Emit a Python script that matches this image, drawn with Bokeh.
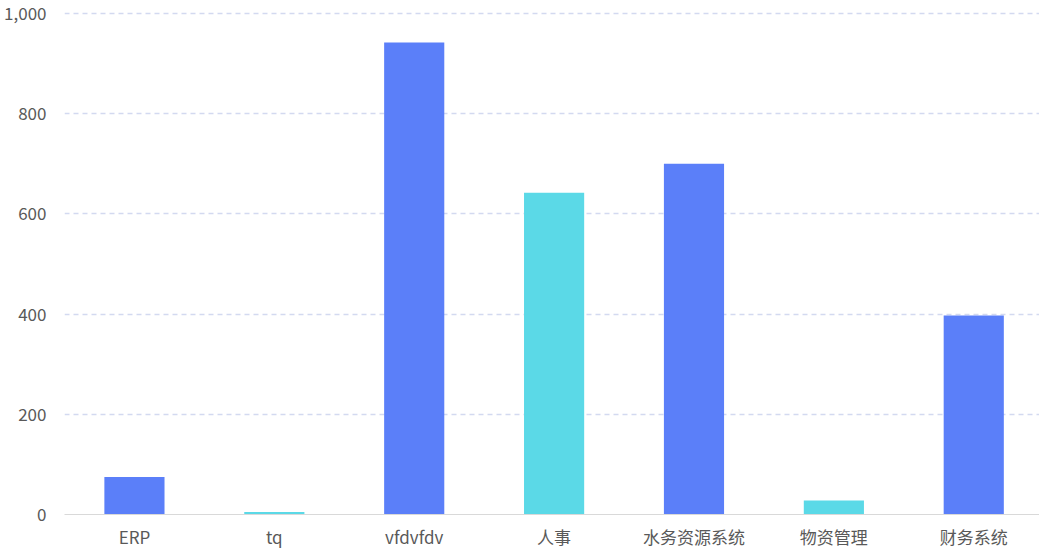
from bokeh.plotting import figure
from bokeh.models import ColumnDataSource, Range1d, NumeralTickFormatter, FixedTicker
from bokeh.embed import file_html
from bokeh.resources import INLINE

categories = ["ERP", "tq", "vfdvfdv", "人事", "水务资源系统", "物资管理", "财务系统"]
values = [75, 5, 942, 642, 700, 28, 397]
palette = ["#5B7FF9", "#5BD9E7"]
y_ticks = [0, 200, 400, 600, 800, 1000]

# position of each category slot (band centre) on a numeric band scale
xpos = [i + 0.5 for i in range(len(categories))]
colors = [palette[i % 2] for i in range(len(categories))]
source = ColumnDataSource(dict(x=xpos, cat=categories, val=values, color=colors))

p = figure(x_range=Range1d(0, 6.97), y_range=Range1d(0, 1004), width=1039, height=554,
           output_backend="svg", toolbar_location=None,
           min_border_left=64, min_border_right=0, min_border_top=11, min_border_bottom=40)
p.outline_line_color = None
p.background_fill_color = "white"

p.vbar(x="x", top="val", width=0.43, source=source, fill_color="color", line_color=None)

p.xgrid.grid_line_color = None
p.ygrid.grid_line_color = "#D3D9F0"
p.ygrid.grid_line_dash = "5 4"
p.ygrid.grid_line_width = 1.3

p.yaxis.ticker = FixedTicker(ticks=y_ticks)
p.yaxis.formatter = NumeralTickFormatter(format="0,0")
p.yaxis.axis_line_color = None
p.yaxis.major_tick_line_color = None
p.yaxis.minor_tick_line_color = None
p.yaxis.major_label_standoff = 12
p.yaxis.major_label_text_font = "Noto Sans CJK SC"
p.yaxis.major_label_text_font_size = "17px"
p.yaxis.major_label_text_color = "#595959"

p.xaxis.ticker = FixedTicker(ticks=xpos)
p.xaxis.major_label_overrides = {x: c for x, c in zip(xpos, categories)}
p.xaxis.axis_line_color = "#D9D9D9"
p.xaxis.axis_line_width = 1
p.xaxis.major_tick_line_color = None
p.xaxis.minor_tick_line_color = None
p.xaxis.major_label_standoff = 3
p.xaxis.major_label_text_font = "Noto Sans CJK SC"
p.xaxis.major_label_text_font_size = "17px"
p.xaxis.major_label_text_color = "#595959"

open("out.html", "w").write(file_html(p, INLINE))
